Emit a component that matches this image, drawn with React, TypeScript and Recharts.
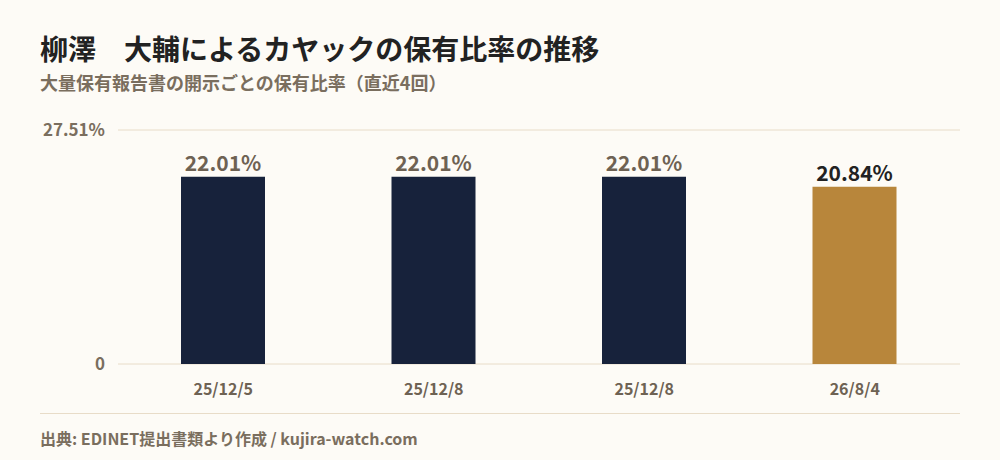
import React from 'react';
import { BarChart, Bar, XAxis, YAxis, CartesianGrid, Cell, LabelList } from 'recharts';

const categories = ['25/12/5', '25/12/8', '25/12/8', '26/8/4'];
const ratios = [22.01, 22.01, 22.01, 20.84];
const yTicks = [0, 27.51];
const barColors = ['#17223b', '#17223b', '#17223b', '#b8863b'];
const labelColors = ['#6e6253', '#6e6253', '#6e6253', '#222222'];

const data = categories.map((c, i) => ({ name: c, value: ratios[i], idx: i }));

const FONT = '"Noto Sans CJK JP", "Noto Sans", sans-serif';

const renderLabel = (props: any) => {
  const { x, y, width, value, index } = props;
  return (
    <text
      x={x + width / 2}
      y={y - 6}
      textAnchor="middle"
      fontFamily={FONT}
      fontWeight={700}
      fontSize={21}
      fill={labelColors[index]}
    >
      {value.toFixed(2)}%
    </text>
  );
};

export default function App() {
  return (
    <div
      style={{
        position: 'fixed',
        left: 0,
        top: 0,
        width: 1000,
        height: 460,
        background: '#fdfbf6',
        fontFamily: FONT,
        overflow: 'hidden',
      }}
    >
      <div
        style={{
          position: 'absolute',
          left: 40,
          top: 28,
          fontSize: 28,
          fontWeight: 700,
          color: '#222222',
          lineHeight: '40px',
          whiteSpace: 'pre',
        }}
      >
        柳澤　大輔によるカヤックの保有比率の推移
      </div>
      <div
        style={{
          position: 'absolute',
          left: 40,
          top: 69,
          fontSize: 18,
          fontWeight: 700,
          color: '#7a6e5e',
          lineHeight: '26px',
        }}
      >
        大量保有報告書の開示ごとの保有比率（直近4回）
      </div>
      <div style={{ position: 'absolute', left: 0, top: 0 }}>
        <BarChart
          width={1000}
          height={460}
          data={data}
          margin={{ top: 130, right: 40, bottom: 66, left: 40 }}
        >
          <CartesianGrid vertical={false} stroke="#e8dcc8" strokeWidth={1} />
          <XAxis
            dataKey="name"
            height={30}
            axisLine={false}
            tickLine={false}
            tickMargin={14}
            interval={0}
            tick={{ fill: '#6e6253', fontSize: 16, fontWeight: 700, fontFamily: FONT }}
          />
          <YAxis
            width={78}
            domain={[0, 27.51]}
            ticks={yTicks}
            axisLine={false}
            tickLine={false}
            tickMargin={7}
            tickFormatter={(v: number) => (v === 0 ? '0' : `${v}%`)}
            tick={{ fill: '#7a6e5e', fontSize: 17, fontWeight: 700, fontFamily: FONT }}
          />
          <Bar dataKey="value" barSize={84} isAnimationActive={false}>
            {data.map((d, i) => (
              <Cell key={i} fill={barColors[i]} />
            ))}
            <LabelList dataKey="value" content={renderLabel} />
          </Bar>
        </BarChart>
      </div>
      <div
        style={{
          position: 'absolute',
          left: 40,
          top: 413,
          width: 920,
          height: 1,
          background: '#e8dcc8',
        }}
      />
      <div
        style={{
          position: 'absolute',
          left: 40,
          top: 426,
          fontSize: 16,
          fontWeight: 700,
          color: '#7a6e5e',
          lineHeight: '24px',
        }}
      >
        出典: EDINET提出書類より作成 / kujira-watch.com
      </div>
    </div>
  );
}
